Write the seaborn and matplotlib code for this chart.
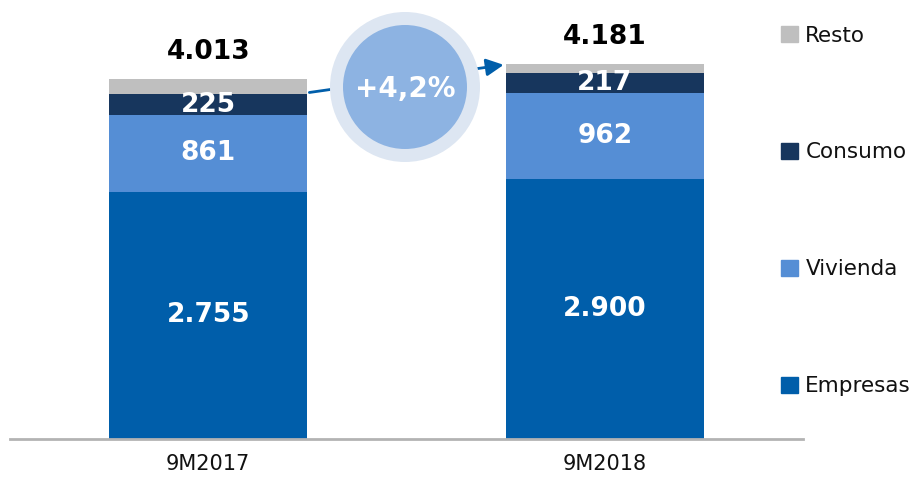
import matplotlib
matplotlib.use("Agg")
import matplotlib.pyplot as plt
import matplotlib.patches as mpatches
from matplotlib.transforms import IdentityTransform
import seaborn as sns
import numpy as np

periods = ["9M2017", "9M2018"]
empresas = [2755, 2900]
vivienda = [861, 962]
consumo = [225, 217]
totals = [4013, 4181]
resto = [t - e - v - c for t, e, v, c in zip(totals, empresas, vivienda, consumo)]
growth_label = "+4,2%"

series_names = ["Empresas", "Vivienda", "Consumo", "Resto"]
series_vals = [empresas, vivienda, consumo, resto]
colors = ["#005EAA", "#558ED5", "#17365D", "#BFBFBF"]

sns.set_theme(style="white")
plt.rcParams['font.family'] = ['DejaVu Sans']

W, H = 917, 486
fig = plt.figure(figsize=(W / 100, H / 100), dpi=100)
ax = fig.add_axes([10 / W, (H - 439) / H, (803 - 10) / W, 439 / H])

cum = np.cumsum(np.array(series_vals), axis=0)
for i in range(len(series_names) - 1, -1, -1):
    sns.barplot(x=periods, y=cum[i], color=colors[i], width=0.5, saturation=1,
                ax=ax, zorder=2, linewidth=0, edgecolor="none")

ax.set_xlim(-0.5, 1.5)
ax.set_ylim(0, 4894)
ax.set_yticks([])
for s in ["top", "right", "left"]:
    ax.spines[s].set_visible(False)
ax.spines["bottom"].set_color("#B3B3B3")
ax.spines["bottom"].set_linewidth(2)
ax.set_xlabel("")
ax.set_ylabel("")
ax.tick_params(axis="x", length=0, pad=11, labelsize=15, labelcolor="#111111")

for j in range(len(periods)):
    bottoms = [0] + list(cum[:-1, j])
    for i in range(3):
        yc = bottoms[i] + series_vals[i][j] / 2
        lab = f"{series_vals[i][j]:,}".replace(",", ".")
        ax.text(j, yc, lab, ha="center", va="center", color="white",
                fontsize=19, fontweight="bold", zorder=5)
    ax.text(j, totals[j] + 300, f"{totals[j]:,}".replace(",", "."),
            ha="center", va="center", color="black", fontsize=19,
            fontweight="bold", zorder=5)

ax.annotate("", xy=(0.745, totals[1] - 10), xytext=(0.255, totals[0] - 150),
            arrowprops=dict(arrowstyle="-|>", color="#005EAA", lw=2,
                            mutation_scale=26, shrinkA=0, shrinkB=0),
            zorder=3)

cx, cy = 405, H - 87
fig.add_artist(mpatches.Circle((cx, cy), 75, transform=IdentityTransform(),
                               facecolor="#DDE6F2", edgecolor="none", zorder=4))
fig.add_artist(mpatches.Circle((cx, cy), 62, transform=IdentityTransform(),
                               facecolor="#8DB3E2", edgecolor="none", zorder=5))
fig.text(cx / W, (cy - 2) / H, growth_label, ha="center", va="center",
         color="white", fontsize=20, fontweight="bold", zorder=6)

handles = [mpatches.Patch(color=colors[i], label=series_names[i]) for i in range(3, -1, -1)]
leg = fig.legend(handles=handles, loc="upper left", bbox_to_anchor=(772 / W, 1 - 17 / H),
                 frameon=False, fontsize=15.5, handlelength=0.8, handleheight=0.8,
                 handletextpad=0.35, labelspacing=4.5, borderaxespad=0)
for t in leg.get_texts():
    t.set_color("#111111")

fig.savefig("out.png", dpi=100)
